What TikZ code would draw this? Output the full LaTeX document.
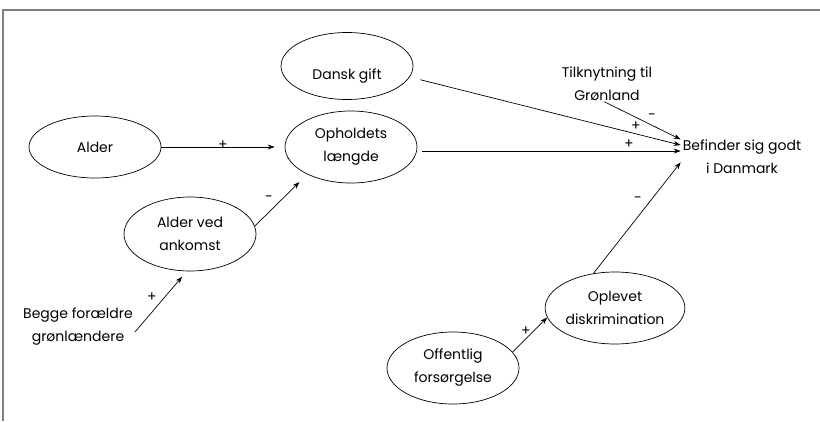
\documentclass[tikz,border=0pt]{standalone}
\usepackage{fontspec}
\setmainfont{Poppins}
\usetikzlibrary{shapes.geometric,arrows.meta}
\begin{document}
\begin{tikzpicture}[x=1pt,y=-1pt,
  txt/.style={font=\fontsize{14}{23}\selectfont},
  ell/.style={txt,ellipse,draw,line width=0.7pt,minimum width=132pt,minimum height=72pt,inner sep=0pt,align=center},
  lbl/.style={txt,align=center,inner sep=2pt},
  conn/.style={-{Stealth[length=7pt,width=5pt]},line width=0.7pt},
  sgn/.style={font=\fontsize{14}{14}\selectfont,inner sep=0pt}]
\useasboundingbox (0,0) rectangle (820,421);
\draw[line width=2pt,color=gray] (3,421) -- (3,10) -- (820,10);

\node[ell,minimum height=62pt] (alder) at (95,147) {Alder};
\node[ell,minimum height=67pt,text height=30pt,text depth=4pt] (dansk) at (347,66) {Dansk gift};
\node[ell] (oph) at (351,147) {Opholdets\\længde};
\node[ell,minimum height=74pt] (ank) at (190,234) {Alder ved\\ankomst};
\node[ell,minimum width=131pt] (opl) at (615,308) {Oplevet\\diskrimination};
\node[ell] (off) at (453,368) {Offentlig\\forsørgelse};
\node[lbl] (bef) at (742,157) {Befinder sig godt\\i Danmark};
\node[lbl] (tilk) at (607,84) {Tilknytning til\\Grønland};
\node[lbl] (begge) at (78,327) {Begge forældre\\grønlændere};

\draw[conn,shorten >=10pt] (alder.east) -- (alder.east -| oph.west);
\draw[conn,shorten >=11pt] (ank.7) -- (oph.212);
\draw[conn,shorten >=7pt] ([yshift=-5pt]begge.east) -- (ank.265);
\draw[conn,shorten <=11pt] (dansk.-10) -- (bef.169);
\draw[conn,shorten <=5pt] ([yshift=-4pt]oph.east) -- ([yshift=-4pt]oph.east -| bef.west);
\draw[conn,shorten <=-3pt] (tilk.south) -- (bef.164);
\draw[conn] (opl.122) -- (bef.185);
\draw[conn] (off.15) -- (opl.188);

\node[sgn] (s1) at (223,145) {+};
\node[sgn] (s2) at (269,199) {-};
\node[sgn] (s3) at (152,297) {+};
\node[sgn] (s4) at (636,126) {+};
\node[sgn] (s5) at (629,144) {+};
\node[sgn] (s6) at (652,117) {-};
\node[sgn] (s7) at (638,200) {-};
\node[sgn] (s8) at (526,331) {+};
\end{tikzpicture}
\end{document}
